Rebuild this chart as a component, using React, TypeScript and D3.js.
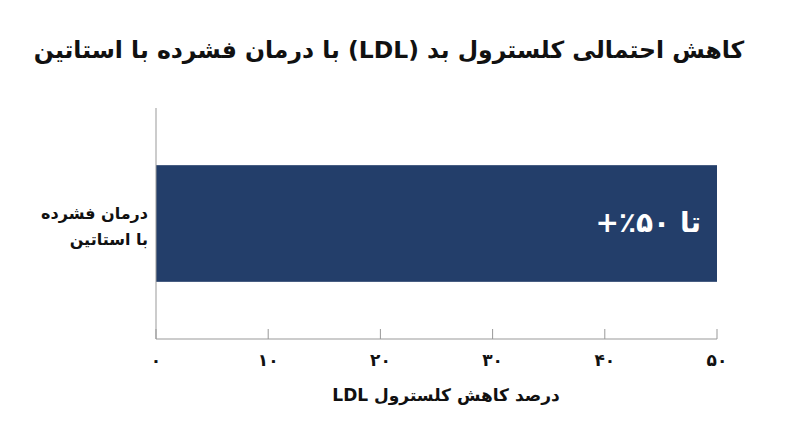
import React from "react";
import * as d3 from "d3";

const title = "کاهش احتمالی کلسترول بد (LDL) با درمان فشرده با استاتین";
const categories = ["درمان فشرده با استاتین"];
const categoryLines = [["درمان فشرده", "با استاتین"]];
const values = [50];
const barLabels = ["تا ۵۰٪+"];
const xTicks = [0, 10, 20, 30, 40, 50];
const xLabel = "درصد کاهش کلسترول LDL";

const faDigits = "۰۱۲۳۴۵۶۷۸۹";
const toFa = (n: number) => String(n).replace(/\d/g, (d) => faDigits[+d]);

export default function App() {
  const W = 800, H = 447;
  const left = 156, right = 717, top = 108, bottom = 339;
  const x = d3.scaleLinear().domain([0, 50]).range([left, right]);
  const y = d3.scaleBand().domain(categories).range([top, bottom]).paddingInner(0).paddingOuter(0.49);
  const font = "'DejaVu Sans', 'Noto Sans', sans-serif";
  const axisColor = "#999";
  return (
    <svg width={W} height={H} style={{ position: "absolute", left: 0, top: 0, background: "#fff" }}>
      <text x={389} y={58} textAnchor="middle" direction="rtl" fontFamily={font} fontWeight="bold" fontSize={23.5} fill="#111">
        {title}
      </text>
      {categories.map((c, i) => (
        <g key={c}>
          <rect x={x(0)} y={y(c)!} width={x(values[i]) - x(0)} height={y.bandwidth()} fill="#233e6a" />
          <text x={x(values[i]) - 16} y={y(c)! + y.bandwidth() / 2 + 8} textAnchor="start" direction="rtl"
            fontFamily={font} fontWeight="bold" fontSize={28} fill="#fff">
            {barLabels[i]}
          </text>
          {categoryLines[i].map((ln, j) => (
            <text key={j} x={148} y={y(c)! + y.bandwidth() / 2 - 5 + j * 26} textAnchor="start" direction="rtl"
              fontFamily={font} fontWeight="bold" fontSize={16} fill="#111">
              {ln}
            </text>
          ))}
        </g>
      ))}
      <line x1={left} x2={left} y1={top} y2={bottom} stroke={axisColor} strokeWidth={1} />
      <line x1={left} x2={right} y1={bottom} y2={bottom} stroke={axisColor} strokeWidth={1} />
      {xTicks.map((t) => (
        <g key={t}>
          <line x1={x(t)} x2={x(t)} y1={bottom} y2={bottom - 10} stroke={axisColor} strokeWidth={1} />
          <text x={x(t)} y={366} textAnchor="middle" fontFamily={font} fontWeight="bold" fontSize={17} fill="#111">
            {toFa(t)}
          </text>
        </g>
      ))}
      <text x={446} y={401} textAnchor="middle" direction="rtl" fontFamily={font} fontWeight="bold" fontSize={17} fill="#111">
        {xLabel}
      </text>
    </svg>
  );
}
